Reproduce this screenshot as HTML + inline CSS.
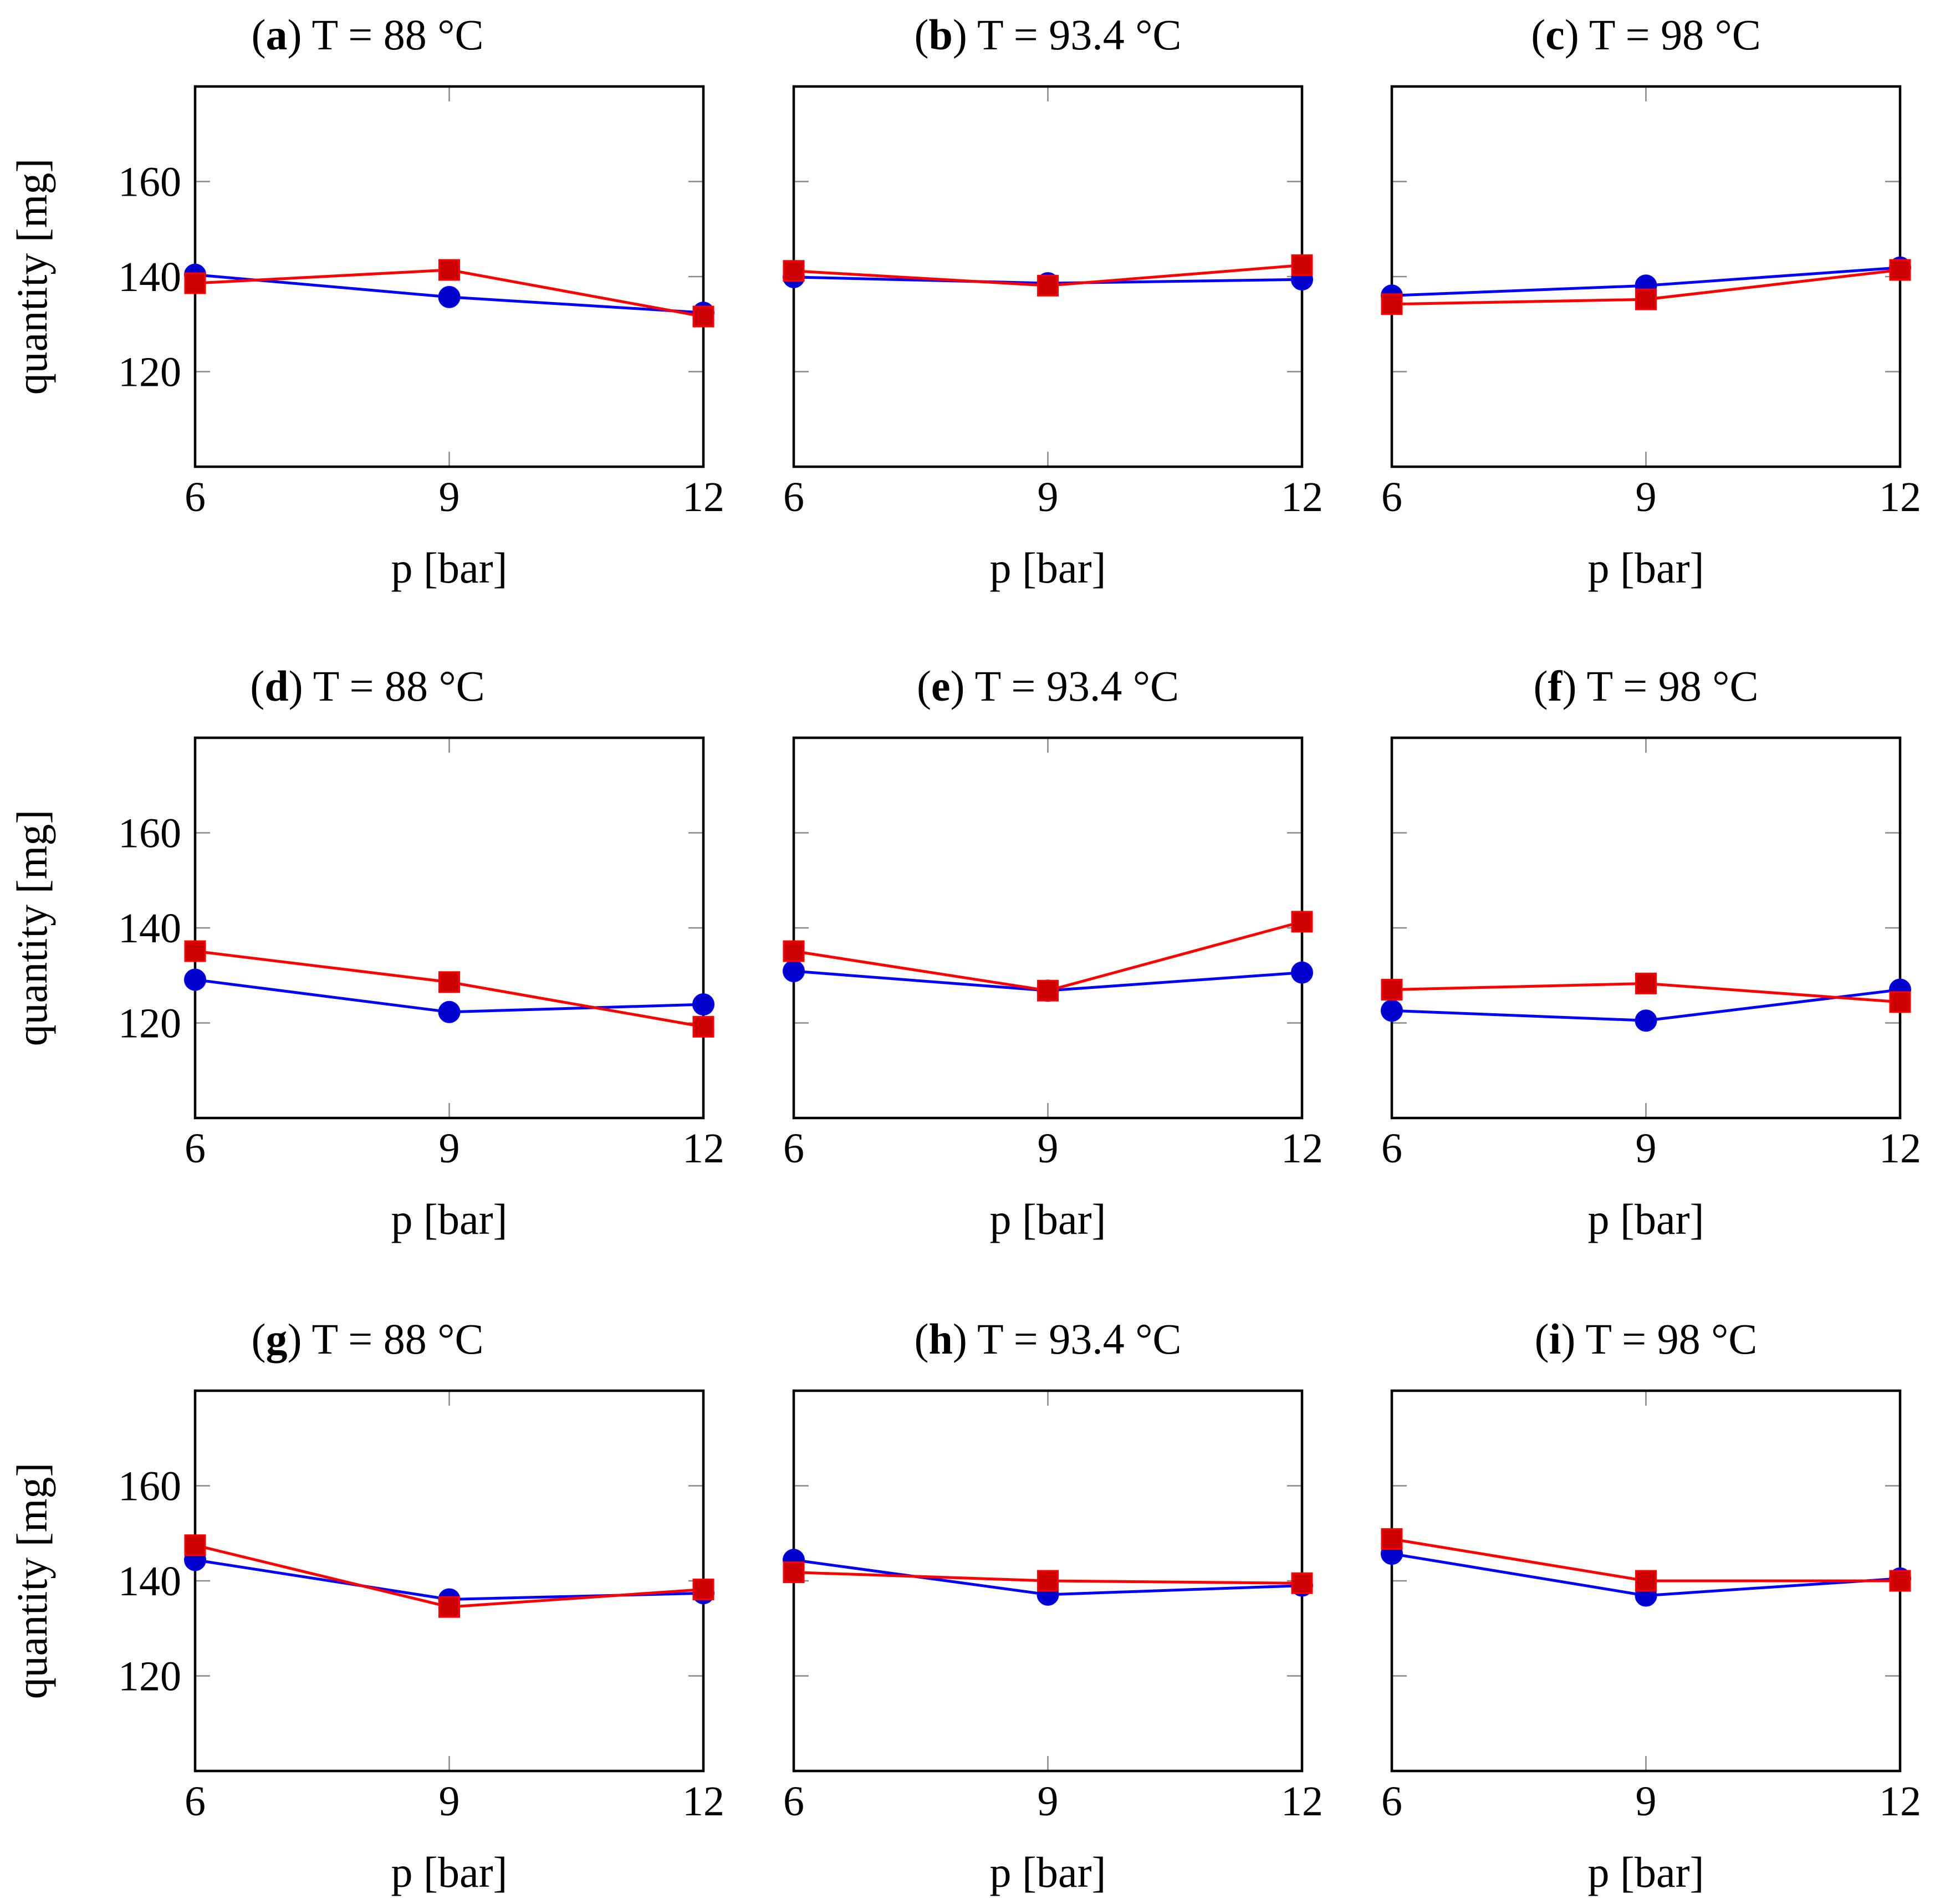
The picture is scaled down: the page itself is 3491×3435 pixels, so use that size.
<!DOCTYPE html>
<html><head><meta charset="utf-8"><style>
html,body{margin:0;padding:0;background:#fff;}
svg{display:block;font-family:"Liberation Serif",serif;}
</style></head><body>
<svg id="chart" width="3491" height="3435" viewBox="0 0 3491 3435" xmlns="http://www.w3.org/2000/svg"></svg>
<script>
const titles = ["a","b","c","d","e","f","g","h","i"];
const temps = ["88","93.4","98","88","93.4","98","88","93.4","98"];
const pressures = [6, 9, 12];
const yTicks = [120, 140, 160];
const blueSeries = [
  [140.4,135.7,132.4],[139.9,138.6,139.4],[136.0,138.1,141.9],
  [129.1,122.3,123.9],[130.9,126.8,130.6],[122.6,120.5,127.0],
  [144.4,136.1,137.4],[144.4,137.1,139.0],[145.7,136.9,140.5]
];
const redSeries = [
  [138.6,141.4,131.6],[141.2,138.1,142.4],[134.2,135.2,141.4],
  [135.1,128.6,119.2],[135.1,126.8,141.3],[127.0,128.3,124.4],
  [147.5,134.5,138.2],[141.8,140.0,139.5],[148.8,140.0,140.0]
];
const NS="http://www.w3.org/2000/svg";
const svg=document.getElementById('chart');
const colX=[352,1432,2511], rowY=[156,1331,2509], PW=917, PH=686;
const YMIN=100,YMAX=180,XMIN=6,XMAX=12;
function mk(tag,attrs,parent){const e=document.createElementNS(NS,tag);for(const k in attrs)e.setAttribute(k,attrs[k]);(parent||svg).appendChild(e);return e;}
for(let i=0;i<9;i++){
  const c=i%3,r=Math.floor(i/3),L=colX[c],T=rowY[r];
  const g=mk('g',{});
  
  
  const sx=v=>L+(v-XMIN)/(XMAX-XMIN)*PW;
  const sy=v=>T+PH-(v-YMIN)/(YMAX-YMIN)*PH;
  yTicks.forEach(t=>{
    const y=sy(t);
    mk('line',{x1:L,x2:L+27,y1:y,y2:y,stroke:'#888','stroke-width':2.5},g);
    mk('line',{x1:L+PW-27,x2:L+PW,y1:y,y2:y,stroke:'#888','stroke-width':2.5},g);
    if(c===0){const tl=mk('text',{x:L-25,y:y+26,'text-anchor':'end','font-size':76},g);tl.textContent=t;
      
      }
  });
  pressures.forEach(p=>{
    const x=sx(p);
    if(p!==XMIN&&p!==XMAX){
      mk('line',{x1:x,x2:x,y1:T,y2:T+27,stroke:'#888','stroke-width':2.5},g);
      mk('line',{x1:x,x2:x,y1:T+PH-27,y2:T+PH,stroke:'#888','stroke-width':2.5},g);
    }
    const tl=mk('text',{x:x,y:T+PH+80,'text-anchor':'middle','font-size':76},g);tl.textContent=p;
    
    
  });
  const fr=mk('rect',{x:L,y:T,width:PW,height:PH,fill:'none',stroke:'#000','stroke-width':4.5},g);
  
  
  const tx=c===0?663:L+PW/2;
  const tt=mk('text',{x:tx,y:T-67,'text-anchor':'middle','font-size':78},g);
  
  
  tt.innerHTML='(<tspan font-weight="bold">'+titles[i]+'</tspan>) T = '+temps[i]+' °C';
  const xl=mk('text',{x:L+PW/2,y:T+PH+209,'text-anchor':'middle','font-size':78},g);xl.textContent='p [bar]';
  
  
  if(c===0){const yl=mk('text',{x:0,y:0,'text-anchor':'middle','font-size':78,transform:`translate(84,${T+PH/2}) rotate(-90)`},g);yl.textContent='quantity [mg]';
    
    }
  const bl=mk('polyline',{points:pressures.map((p,k)=>sx(p)+','+sy(blueSeries[i][k])).join(' '),fill:'none',stroke:'#0000ff','stroke-width':5},g);
  
  
  pressures.forEach((p,k)=>{const m=mk('circle',{cx:sx(p),cy:sy(blueSeries[i][k]),r:19,fill:'#0000cc',stroke:'#0000ff','stroke-width':2},g);
    
    });
  const rl=mk('polyline',{points:pressures.map((p,k)=>sx(p)+','+sy(redSeries[i][k])).join(' '),fill:'none',stroke:'#ff0000','stroke-width':5},g);
  
  
  pressures.forEach((p,k)=>{const m=mk('rect',{x:sx(p)-18,y:sy(redSeries[i][k])-18,width:36,height:36,fill:'#cc0000',stroke:'#ff0000','stroke-width':3},g);
    
    });
}
</script>
</body></html>
